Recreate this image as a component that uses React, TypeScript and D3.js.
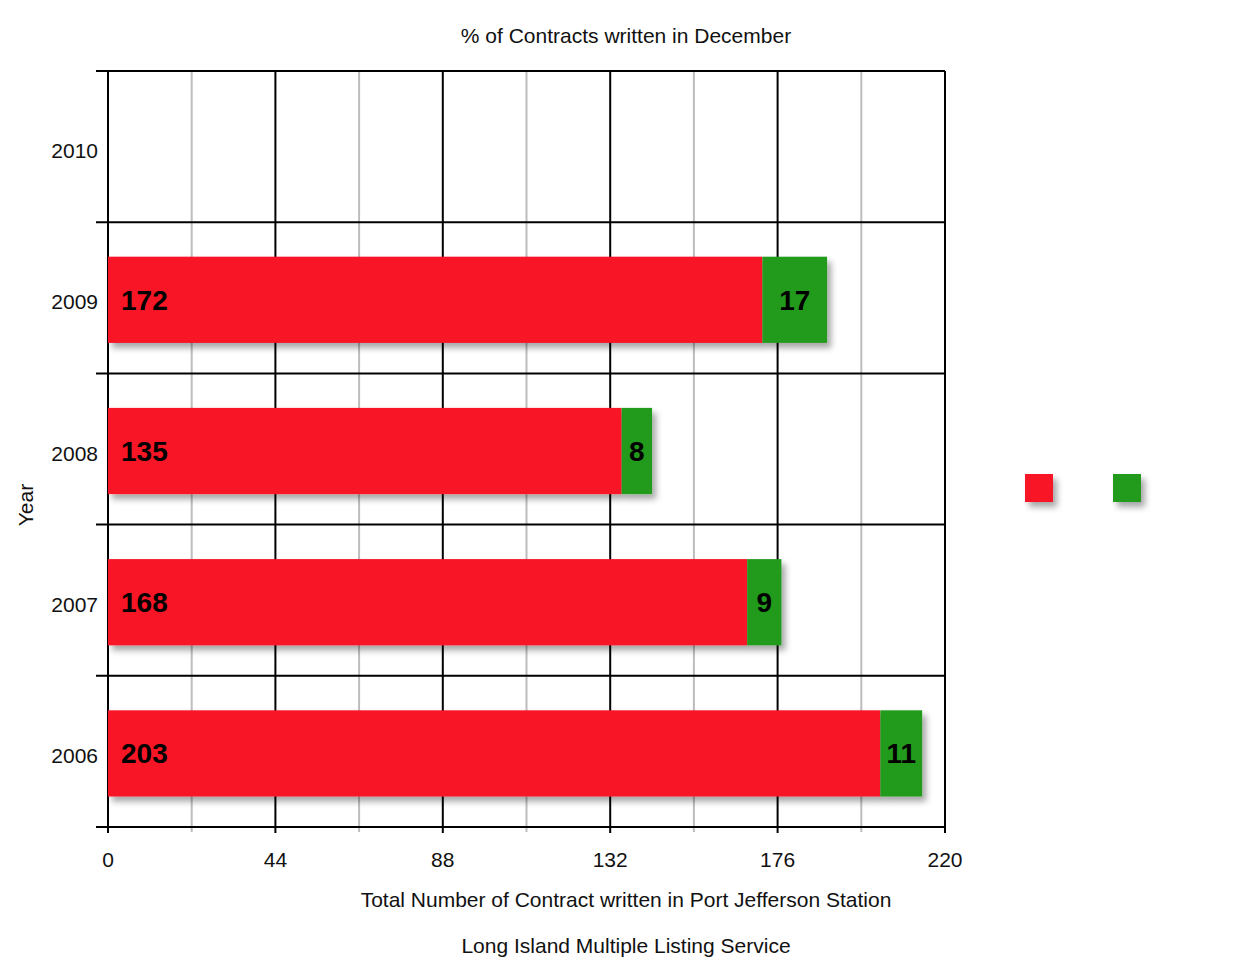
import React from "react";
import * as d3 from "d3";

const years = ["2010", "2009", "2008", "2007", "2006"];
const total = [null, 172, 135, 168, 203];
const december = [null, 17, 8, 9, 11];
const xTicks = [0, 44, 88, 132, 176, 220];
const minorTicks = [22, 66, 110, 154, 198];

const width = 1248;
const height = 963;
const margin = { top: 71, right: 303, bottom: 136, left: 108 };

const RED = "#f81426";
const GREEN = "#229a1e";
const FONT = "'Liberation Sans', Arial, Helvetica, sans-serif";

export default function App() {
  const innerWidth = width - margin.left - margin.right;
  const innerHeight = height - margin.top - margin.bottom;

  const x = d3.scaleLinear().domain([0, 220]).range([0, innerWidth]);
  const y = d3
    .scaleBand()
    .domain(years)
    .range([0, innerHeight])
    .paddingInner(0.43)
    .paddingOuter(0.215);

  const step = y.step();
  // band boundaries (lines between years)
  const boundaries = d3.range(years.length + 1).map(i => i * step);
  const shift = 2; // bars sit a touch below the band centre

  return (
    <svg
      width={width}
      height={height}
      style={{ position: "absolute", left: 0, top: 0, fontFamily: FONT }}
    >
      <defs>
        <filter id="shadow" x="-10%" y="-10%" width="130%" height="150%">
          <feDropShadow dx="4" dy="5" stdDeviation="3" floodColor="#000" floodOpacity="0.35" />
        </filter>
      </defs>
      <rect width={width} height={height} fill="#fff" />

      <text x={626} y={43} textAnchor="middle" fontSize={21} fill="#111">
        % of Contracts written in December
      </text>

      <g transform={`translate(${margin.left},${margin.top})`}>
        {/* minor gray grid */}
        {minorTicks.map(t => (
          <line key={"m" + t} x1={x(t)} x2={x(t)} y1={0} y2={innerHeight + 5} stroke="#bdbdbd" strokeWidth={2} />
        ))}
        {/* major black grid */}
        {xTicks.map(t => (
          <line key={"M" + t} x1={x(t)} x2={x(t)} y1={0} y2={innerHeight + 6} stroke="#000" strokeWidth={2} />
        ))}
        {/* horizontal band lines */}
        {boundaries.map((b, i) => (
          <line key={"h" + i} x1={-12} x2={innerWidth} y1={b} y2={b} stroke="#000" strokeWidth={2} />
        ))}

        {/* bars */}
        {years.map((yr, i) => {
          const a = total[i];
          const b = december[i];
          if (a == null || b == null) return null;
          const y0 = y(yr)! + shift;
          const bh = y.bandwidth();
          return (
            <g key={yr}>
              <g filter="url(#shadow)">
                <rect x={x(0)} y={y0} width={x(a) - x(0)} height={bh} fill={RED} />
                <rect x={x(a)} y={y0} width={x(a + b) - x(a)} height={bh} fill={GREEN} />
              </g>
              <text x={x(0) + 13} y={y0 + bh / 2} dy="0.36em" fontSize={28} fontWeight="bold" fill="#000">
                {a}
              </text>
              <text
                x={(x(a) + x(a + b)) / 2}
                y={y0 + bh / 2}
                dy="0.36em"
                textAnchor="middle"
                fontSize={28}
                fontWeight="bold"
                fill="#000"
              >
                {b}
              </text>
            </g>
          );
        })}

        {/* y labels */}
        {years.map(yr => (
          <text
            key={"yl" + yr}
            x={-10}
            y={y(yr)! + y.bandwidth() / 2 + shift + 2}
            dy="0.36em"
            textAnchor="end"
            fontSize={21}
            fill="#111"
          >
            {yr}
          </text>
        ))}

        {/* x tick labels */}
        {xTicks.map(t => (
          <text key={"xl" + t} x={x(t)} y={innerHeight + 40} textAnchor="middle" fontSize={21} fill="#111">
            {t}
          </text>
        ))}
      </g>

      <text x={626} y={907} textAnchor="middle" fontSize={21} fill="#111">
        Total Number of Contract written in Port Jefferson Station
      </text>
      <text x={626} y={953} textAnchor="middle" fontSize={21} fill="#111">
        Long Island Multiple Listing Service
      </text>
      <text transform="translate(33,505) rotate(-90)" textAnchor="middle" fontSize={21} fill="#111">
        Year
      </text>

      {/* legend */}
      <g filter="url(#shadow)">
        <rect x={1025} y={474} width={28} height={28} fill={RED} />
        <rect x={1113} y={474} width={28} height={28} fill={GREEN} />
      </g>
    </svg>
  );
}
